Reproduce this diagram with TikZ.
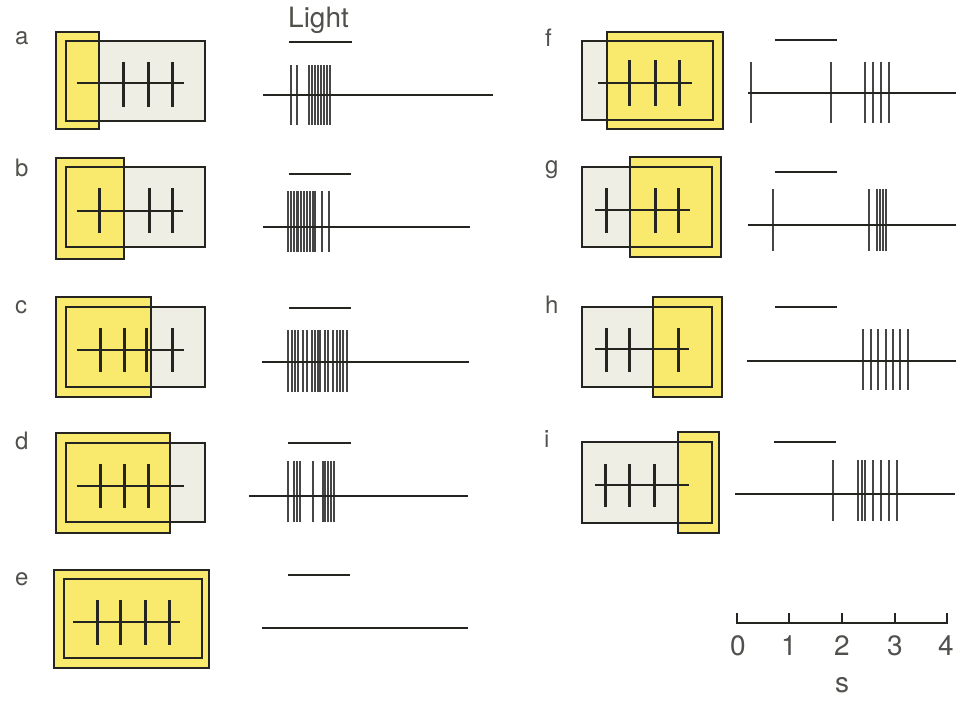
\documentclass[tikz,border=0pt]{standalone}
\usepackage{fontspec}
\setmainfont{TeX Gyre Heros}
\definecolor{spotfill}{RGB}{249,233,108}
\definecolor{rffill}{RGB}{238,238,228}
\definecolor{ink}{RGB}{36,36,32}
\definecolor{spk}{RGB}{70,70,70}
\begin{document}
\begin{tikzpicture}[x=1pt,y=-1pt,
  rf/.style={fill=rffill},
  spot/.style={fill=spotfill},
  frame/.style={draw=ink,line width=2.8pt},
  axon/.style={draw=ink,line width=2.8pt},
  tickln/.style={draw=ink,line width=3pt},
  base/.style={draw=ink,line width=2.7pt},
  spike/.style={draw=spk,line width=1.4pt},
  lightbar/.style={draw=ink,line width=2.9pt},
  lab/.style={inner sep=0pt,anchor=base west,font=\fontsize{24}{28}\selectfont,text=ink!80},
  scaletxt/.style={inner sep=0pt,anchor=base,font=\fontsize{28}{32}\selectfont,text=ink!80}]
\useasboundingbox (0,0) rectangle (961,701);

% ---------- panel labels ----------
\node[lab] (la) at (15,45) {a};
\node[lab] (lb) at (15,176) {b};
\node[lab] (lc) at (15,313) {c};
\node[lab] (ld) at (15,449) {d};
\node[lab] (le) at (15,585) {e};
\node[lab] (lf) at (545,47) {f};
\node[lab] (lg) at (545,173) {g};
\node[lab] (lh) at (545,313) {h};
\node[lab] (li) at (544,447) {i};
\node[scaletxt,anchor=base west] (light) at (288,28) {Light};

% ---------- a ----------
\fill[rf] (66,41) rectangle (205,121);
\fill[spot] (56,32) rectangle (99,129);
\draw[frame] (66,41) rectangle (205,121);
\draw[frame] (56,32) rectangle (99,129);
\draw[axon] (77,83) -- (184,83);
\foreach \x in {123,148,172} \draw[tickln] (\x,62) -- (\x,107);
\draw[lightbar] (289,42) -- (352,42);
\foreach \x in {291,297,309,312,315,318,321,324,327,330} \draw[spike] (\x,65) -- (\x,125);
\draw[base] (263,95) -- (493,95);

% ---------- b ----------
\fill[rf] (66,167) rectangle (205,247);
\fill[spot] (56,158) rectangle (124,259);
\draw[frame] (66,167) rectangle (205,247);
\draw[frame] (56,158) rectangle (124,259);
\draw[axon] (77,211) -- (183,211);
\foreach \x in {99,149,172} \draw[tickln] (\x,188) -- (\x,233);
\draw[lightbar] (289,174) -- (351,174);
\foreach \x in {288,291,294,297,298,301,304,307,310,313,315,322,329} \draw[spike] (\x,191) -- (\x,252);
\draw[base] (263,227) -- (470,227);

% ---------- c ----------
\fill[rf] (66,307) rectangle (205,387);
\fill[spot] (56,297) rectangle (151,397);
\draw[frame] (66,307) rectangle (205,387);
\draw[frame] (56,297) rectangle (151,397);
\draw[axon] (77,350) -- (184,350);
\foreach \x in {100,124,146,172} \draw[tickln] (\x,328) -- (\x,372);
\draw[lightbar] (289,308) -- (351,308);
\foreach \x in {288,292,295,298,303,307,312,315,318,320,325,328,333,337,340,343,347} \draw[spike] (\x,330) -- (\x,392);
\draw[base] (262,362) -- (469,362);

% ---------- d ----------
\fill[rf] (66,443) rectangle (205,522);
\fill[spot] (56,433) rectangle (170,533);
\draw[frame] (66,443) rectangle (205,522);
\draw[frame] (56,433) rectangle (170,533);
\draw[axon] (77,486) -- (184,486);
\foreach \x in {100,124,148} \draw[tickln] (\x,464) -- (\x,508);
\draw[lightbar] (288,443) -- (351,443);
\foreach \x in {288,294,297,300,313,323,325,328,331,334} \draw[spike] (\x,461) -- (\x,522);
\draw[base] (249,496) -- (468,496);

% ---------- e ----------
\fill[spot] (54,570) rectangle (209,668);
\draw[frame] (54,570) rectangle (209,668);
\draw[frame] (64,579) rectangle (202,658);
\draw[axon] (73,622) -- (180,622);
\foreach \x in {97,120,145,169} \draw[tickln] (\x,600) -- (\x,645);
\draw[lightbar] (288,575) -- (350,575);
\draw[base] (262,628) -- (468,628);

% ---------- f ----------
\fill[rf] (582,41) rectangle (713,120);
\fill[spot] (607,32) rectangle (723,129);
\draw[frame] (582,41) rectangle (713,120);
\draw[frame] (607,32) rectangle (723,129);
\draw[axon] (598,83) -- (692,83);
\foreach \x in {629,655,679} \draw[tickln] (\x,60) -- (\x,106);
\draw[lightbar] (775,40) -- (837,40);
\foreach \x in {751,831,865,873,881,889} \draw[spike] (\x,62) -- (\x,123);
\draw[base] (748,93) -- (956,93);

% ---------- g ----------
\fill[rf] (582,167) rectangle (712,247);
\fill[spot] (630,157) rectangle (721,257);
\draw[frame] (582,167) rectangle (712,247);
\draw[frame] (630,157) rectangle (721,257);
\draw[axon] (595,210) -- (690,210);
\foreach \x in {606,655,678} \draw[tickln] (\x,188) -- (\x,233);
\draw[lightbar] (775,172) -- (837,172);
\foreach \x in {773,869,877,880,883,886} \draw[spike] (\x,189) -- (\x,251);
\draw[base] (748,225) -- (956,225);

% ---------- h ----------
\fill[rf] (582,307) rectangle (712,387);
\fill[spot] (653,297) rectangle (722,397);
\draw[frame] (582,307) rectangle (712,387);
\draw[frame] (653,297) rectangle (722,397);
\draw[axon] (595,349) -- (689,349);
\foreach \x in {606,629,678} \draw[tickln] (\x,328) -- (\x,372);
\draw[lightbar] (775,307) -- (837,307);
\foreach \x in {863,871,878,886,893,900,908} \draw[spike] (\x,329) -- (\x,390);
\draw[base] (747,361) -- (956,361);

% ---------- i ----------
\fill[rf] (582,442) rectangle (712,523);
\fill[spot] (678,432) rectangle (719,533);
\draw[frame] (582,442) rectangle (712,523);
\draw[frame] (678,432) rectangle (719,533);
\draw[axon] (595,485) -- (689,485);
\foreach \x in {605,629,654} \draw[tickln] (\x,464) -- (\x,507);
\draw[lightbar] (774,442) -- (836,442);
\foreach \x in {833,858,862,865,873,881,889,897} \draw[spike] (\x,460) -- (\x,521);
\draw[base] (735,494) -- (955,494);

% ---------- time scale ----------
\draw[base,line width=2.6pt] (737,613) -- (737,623) -- (947,623) -- (947,613);
\foreach \x in {789,842,895} \draw[base,line width=2.6pt] (\x,613) -- (\x,623);
\node[scaletxt] (t0) at (738,655) {0};
\node[scaletxt] (t1) at (789,655) {1};
\node[scaletxt] (t2) at (842,655) {2};
\node[scaletxt] (t3) at (895,655) {3};
\node[scaletxt] (t4) at (946,655) {4};
\node[scaletxt] (unit) at (842,692) {s};
\end{tikzpicture}
\end{document}
